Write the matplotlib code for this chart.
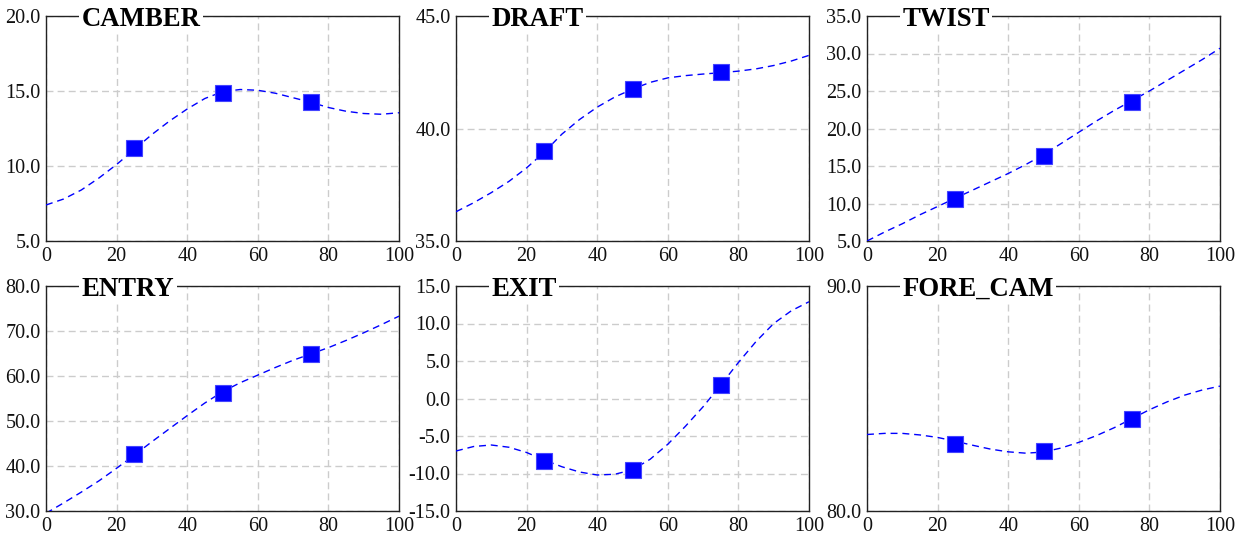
import matplotlib
matplotlib.use('Agg')
import matplotlib.pyplot as plt
import matplotlib.transforms as mtransforms
import numpy as np

plt.rcParams['font.family'] = ['Liberation Serif', 'DejaVu Serif']

# curve sampled every 5 units along the span
span = [0, 5, 10, 15, 20, 25, 30, 35, 40, 45, 50, 55, 60, 65, 70, 75, 80, 85, 90, 95, 100]
stations = [25, 50, 75]

camber_curve = [7.4, 7.8, 8.4, 9.2, 10.1, 11.1, 12.1, 13.0, 13.8, 14.5, 14.95,
                15.1, 15.05, 14.85, 14.55, 14.25, 13.9, 13.65, 13.5, 13.45, 13.55]
camber_pts = [11.2, 14.9, 14.3]

draft_curve = [36.3, 36.7, 37.15, 37.65, 38.25, 38.95, 39.75, 40.4, 40.95, 41.4, 41.75,
               42.05, 42.25, 42.35, 42.42, 42.48, 42.55, 42.65, 42.8, 43.0, 43.25]
draft_pts = [39.0, 41.75, 42.5]

twist_curve = [5.0, 6.2, 7.3, 8.5, 9.6, 10.7, 11.8, 12.9, 14.0, 15.2, 16.5,
               18.0, 19.5, 21.0, 22.4, 23.7, 25.0, 26.4, 27.8, 29.2, 30.7]
twist_pts = [10.6, 16.3, 23.5]

entry_curve = [29.5, 31.8, 34.2, 36.7, 39.5, 42.4, 45.4, 48.3, 51.2, 54.0, 56.5,
               58.5, 60.2, 61.9, 63.5, 64.9, 66.3, 67.9, 69.6, 71.4, 73.3]
entry_pts = [42.6, 56.3, 64.8]

exit_curve = [-7.0, -6.4, -6.2, -6.5, -7.2, -8.2, -9.1, -9.8, -10.2, -10.1, -9.5,
              -8.1, -6.1, -3.7, -1.1, 1.8, 4.8, 7.6, 10.0, 11.7, 12.9]
exit_pts = [-8.3, -9.55, 1.8]

forecam_curve = [83.4, 83.45, 83.45, 83.38, 83.27, 83.1, 82.92, 82.75, 82.63, 82.57, 82.62,
                 82.8, 83.05, 83.35, 83.7, 84.1, 84.5, 84.85, 85.15, 85.38, 85.55]
forecam_pts = [83.0, 82.66, 84.1]

panels = [
    ('CAMBER', camber_curve, camber_pts, [5, 10, 15, 20]),
    ('DRAFT', draft_curve, draft_pts, [35, 40, 45]),
    ('TWIST', twist_curve, twist_pts, [5, 10, 15, 20, 25, 30, 35]),
    ('ENTRY', entry_curve, entry_pts, [30, 40, 50, 60, 70, 80]),
    ('EXIT', exit_curve, exit_pts, [-15, -10, -5, 0, 5, 10, 15]),
    ('FORE_CAM', forecam_curve, forecam_pts, [80, 90]),
]

W, H = 1241, 538
fig = plt.figure(figsize=(W / 100, H / 100), dpi=100)

lefts = [46, 456, 867]
tops = [16, 286]
aw, ah = 353, 225

for i, (name, curve, pts, yt) in enumerate(panels):
    r, c = divmod(i, 3)
    ax = fig.add_axes([lefts[c] / W, 1 - (tops[r] + ah) / H, aw / W, ah / H])
    ax.plot(span, curve, color='blue', lw=1.0, dashes=(5, 3.5), zorder=3)
    ax.plot(stations, pts, ls='none', marker='s', ms=11, color='#0000ff',
            mec='#4444ff', mew=0.8, zorder=4)
    ax.set_xlim(0, 100)
    ax.set_ylim(yt[0], yt[-1])
    ax.set_xticks([0, 20, 40, 60, 80, 100])
    ax.set_yticks(yt)
    ax.set_yticklabels(['%.1f' % v for v in yt])
    ax.grid(True, color='#cccccc', lw=1.0, dashes=(5, 3))
    ax.set_axisbelow(True)
    ax.tick_params(axis='y', length=0, pad=4, labelsize=14.5, colors='#111111')
    ax.tick_params(axis='x', length=0, pad=4, labelsize=14.5, colors='#111111')
    for s in ax.spines.values():
        s.set_linewidth(1.0)
        s.set_color('#222222')
    # title sits on the top spine, a little below its centre line
    tr = mtransforms.offset_copy(ax.transAxes, fig=fig, x=0, y=-3, units='dots')
    ax.text(0.1, 1.0, name, transform=tr, ha='left', va='center',
            fontsize=19.3, fontweight='bold', zorder=10,
            bbox=dict(facecolor='white', edgecolor='none', pad=2.0))

plt.savefig('out.png', dpi=100)
